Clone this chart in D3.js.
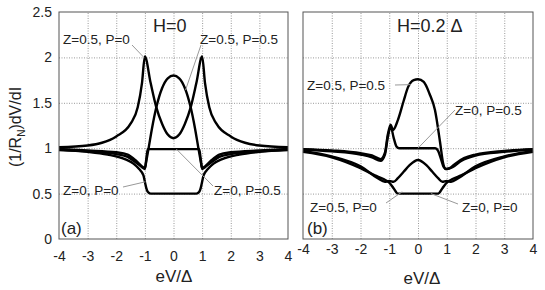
<!DOCTYPE html>
<html>
<head>
<meta charset="utf-8">
<script src="https://cdn.jsdelivr.net/npm/d3@7"></script>
<style>
body { margin: 0; background: #fff; }
text { font-family: "Liberation Sans", Arial, sans-serif; fill: #222; }
</style>
</head>
<body>
<svg width="545" height="290"></svg>
<script>
// ticks
var xTicks = [-4, -3, -2, -1, 0, 1, 2, 3, 4];
var yTicks = [0, 0.5, 1, 1.5, 2, 2.5];
var yTickLabels = ["0", "0.5", "1", "1.5", "2", "2.5"];

// panel (a) H=0
var a_z05p0_x = [-4, -3, -2.5, -2, -1.5, -1.25, -1.1, -1, -0.8, -0.6, -0.4, -0.2, 0, 0.2, 0.4, 0.6, 0.8, 1, 1.1, 1.25, 1.5, 2, 2.5, 3, 4];
var a_z05p0_y = [1.01, 1.03, 1.06, 1.13, 1.27, 1.45, 1.72, 2.01, 1.72, 1.45, 1.27, 1.15, 1.11, 1.15, 1.27, 1.45, 1.72, 2.01, 1.72, 1.45, 1.27, 1.13, 1.06, 1.03, 1.01];
var a_z05p05_x = [-4, -3, -2, -1.6, -1.3, -1.1, -1, -0.95, -0.87, -0.75, -0.6, -0.4, -0.2, 0, 0.2, 0.4, 0.6, 0.75, 0.87, 0.95, 1, 1.1, 1.3, 1.6, 2, 3, 4];
var a_z05p05_y = [0.99, 0.975, 0.955, 0.93, 0.86, 0.8, 0.78, 0.86, 1.0, 1.22, 1.45, 1.66, 1.77, 1.8, 1.77, 1.66, 1.45, 1.22, 1.0, 0.86, 0.78, 0.8, 0.86, 0.93, 0.955, 0.975, 0.99];
var a_z0p05_x = [-4, -3, -2, -1.6, -1.3, -1.1, -1, -0.95, -0.9, 0, 0.9, 0.95, 1, 1.1, 1.3, 1.6, 2, 3, 4];
var a_z0p05_y = [0.985, 0.965, 0.935, 0.905, 0.84, 0.79, 0.77, 0.88, 0.99, 0.99, 0.99, 0.88, 0.77, 0.79, 0.84, 0.905, 0.935, 0.965, 0.985];
var a_z0p0_x = [-4, -3, -2.3, -1.7, -1.4, -1.2, -1.05, -1, -0.95, -0.9, -0.8, 0, 0.8, 0.9, 0.95, 1, 1.05, 1.2, 1.4, 1.7, 2.3, 3, 4];
var a_z0p0_y = [0.98, 0.96, 0.93, 0.88, 0.83, 0.77, 0.7, 0.63, 0.56, 0.52, 0.5, 0.5, 0.5, 0.52, 0.56, 0.63, 0.7, 0.77, 0.83, 0.88, 0.93, 0.96, 0.98];

// panel (b) H=0.2 Delta
var b_z05p05_x = [-4, -3, -2, -1.6, -1.3, -1.15, -1.05, -0.95, -0.87, -0.7, -0.5, -0.35, -0.15, 0, 0.2, 0.4, 0.59, 0.77, 0.87, 0.95, 1.1, 1.3, 1.6, 2, 3, 4];
var b_z05p05_y = [0.99, 0.975, 0.945, 0.92, 0.88, 0.95, 1.15, 1.26, 1.2, 1.31, 1.52, 1.67, 1.75, 1.76, 1.73, 1.6, 1.42, 1.06, 0.84, 0.77, 0.78, 0.83, 0.89, 0.93, 0.97, 0.99];
var b_z0p05_x = [-4, -3, -2, -1.6, -1.3, -1.15, -1.05, -0.95, -0.85, -0.75, -0.65, 0, 0.6, 0.7, 0.8, 0.9, 1, 1.2, 1.5, 2, 3, 4];
var b_z0p05_y = [0.985, 0.965, 0.93, 0.9, 0.86, 0.93, 1.12, 1.24, 1.12, 1.02, 1.0, 1.0, 1.0, 0.97, 0.88, 0.79, 0.77, 0.79, 0.86, 0.92, 0.96, 0.985];
var b_z05p0_x = [-4, -3, -2, -1.4, -1.15, -1, -0.85, -0.7, -0.5, -0.3, 0, 0.3, 0.5, 0.7, 0.85, 1, 1.15, 1.4, 2, 3, 4];
var b_z05p0_y = [0.97, 0.91, 0.8, 0.67, 0.63, 0.64, 0.63, 0.67, 0.74, 0.81, 0.87, 0.81, 0.74, 0.67, 0.63, 0.64, 0.63, 0.67, 0.8, 0.91, 0.97];
var b_z0p0_x = [-4, -3, -2, -1.5, -1.2, -1, -0.85, -0.7, 0, 0.7, 0.85, 1, 1.2, 1.5, 2, 3, 4];
var b_z0p0_y = [0.96, 0.9, 0.78, 0.7, 0.66, 0.62, 0.56, 0.5, 0.5, 0.5, 0.56, 0.62, 0.66, 0.7, 0.78, 0.9, 0.96];

var svg = d3.select("svg");

var yTop = 12, yBot = 239;
var y = d3.scaleLinear().domain([0, 2.5]).range([yBot, yTop]);

function zip(xs, ys) {
	return xs.map((d, i) => [d, ys[i]]);
}

function drawPanel(x0, x1, series, showY, tickY) {
	var x = d3.scaleLinear().domain([-4, 4]).range([x0, x1]);
	var g = svg.append("g");

	// dotted grid
	g.append("g")
		.attr("transform", "translate(0," + yBot + ")")
		.call(d3.axisBottom(x).tickValues(xTicks.slice(1, -1)).tickSize(-(yBot - yTop)).tickFormat(""))
		.call((s) => s.select(".domain").remove())
		.selectAll("line").attr("stroke", "#999").attr("stroke-dasharray", "1,1.5");
	g.append("g")
		.attr("transform", "translate(" + x0 + ",0)")
		.call(d3.axisLeft(y).tickValues(yTicks.slice(1, -1)).tickSize(-(x1 - x0)).tickFormat(""))
		.call((s) => s.select(".domain").remove())
		.selectAll("line").attr("stroke", "#999").attr("stroke-dasharray", "1,1.5");

	// curves
	var line = d3.line()
		.x((d) => x(d[0]))
		.y((d) => y(d[1]))
		.curve(d3.curveMonotoneX);
	series.forEach((s) => {
		g.append("path")
			.attr("d", line(s))
			.attr("fill", "none")
			.attr("stroke", "#000")
			.attr("stroke-width", 2.4);
	});

	// frame
	g.append("rect")
		.attr("x", x0).attr("y", yTop)
		.attr("width", x1 - x0).attr("height", yBot - yTop)
		.attr("fill", "none").attr("stroke", "#555").attr("stroke-width", 1);

	// x tick labels
	var xa = g.append("g")
		.attr("transform", "translate(0," + tickY + ")")
		.call(d3.axisBottom(x).tickValues(xTicks).tickSize(0).tickPadding(0).tickFormat((d) => d < 0 ? "-" + Math.abs(d) : d));
	xa.select(".domain").remove();
	xa.selectAll("text").attr("font-size", 14).attr("font-family", "Liberation Sans, Arial").attr("fill", "#222");

	if (showY) {
		var ya = g.append("g")
			.attr("transform", "translate(" + (x0 - 7) + ",0)")
			.call(d3.axisLeft(y).tickValues(yTicks).tickSize(0).tickPadding(0).tickFormat((d, i) => yTickLabels[i]));
		ya.select(".domain").remove();
		ya.selectAll("text").attr("font-size", 14).attr("font-family", "Liberation Sans, Arial").attr("fill", "#222");
	}
	return x;
}

var xa = drawPanel(59, 288, [
	zip(a_z05p0_x, a_z05p0_y),
	zip(a_z05p05_x, a_z05p05_y),
	zip(a_z0p05_x, a_z0p05_y),
	zip(a_z0p0_x, a_z0p0_y)
], true, 251);

var xb = drawPanel(303, 533, [
	zip(b_z05p05_x, b_z05p05_y),
	zip(b_z0p05_x, b_z0p05_y),
	zip(b_z05p0_x, b_z05p0_y),
	zip(b_z0p0_x, b_z0p0_y)
], false, 244);

// leader lines for the curve labels
function leader(x1, y1, x2, y2) {
	svg.append("line")
		.attr("x1", x1).attr("y1", y1).attr("x2", x2).attr("y2", y2)
		.attr("stroke", "#999").attr("stroke-width", 1);
}
function label(t, x, yy, size, anchor) {
	svg.append("text")
		.attr("x", x).attr("y", yy)
		.attr("font-size", size || 13.5)
		.attr("text-anchor", anchor || "start")
		.text(t);
}

leader(132, 45, xa(-1) - 1, y(2.0));
leader(201, 45, xa(0.42), y(1.64));
leader(123, 187, xa(-0.98), y(0.63));
leader(213, 186, xa(0.1), y(0.99));

leader(395, 85, xb(-0.25), y(1.7));
leader(455, 110, xb(0), y(1.0));
leader(386, 203, xb(-0.55), y(0.52));
leader(458, 204, xb(0.45), y(0.5));

// panel (a) texts
label("Z=0.5, P=0", 63, 44);
label("Z=0.5, P=0.5", 200, 44);
label("H=0", 153, 32, 18);
label("Z=0, P=0", 63, 195);
label("Z=0, P=0.5", 214, 195);
label("(a)", 61, 234, 17);

// panel (b) texts
label("Z=0.5, P=0.5", 307, 90);
label("Z=0, P=0.5", 455, 115);
label("H=0.2 \u0394", 397, 32, 18);
label("Z=0.5, P=0", 310, 212);
label("Z=0, P=0", 462, 212);
label("(b)", 307, 234, 17);

// axis titles
label("eV/\u0394", 174, 282, 17, "middle");
label("eV/\u0394", 422, 284, 17, "middle");

var yt = svg.append("text")
	.attr("transform", "translate(21,127) rotate(-90)")
	.attr("text-anchor", "middle")
	.attr("font-size", 16);
yt.append("tspan").text("(1/R");
yt.append("tspan").attr("font-size", 10).attr("dy", 4).text("N");
yt.append("tspan").attr("dy", -4).text(")dV/dI");
</script>
</body>
</html>
